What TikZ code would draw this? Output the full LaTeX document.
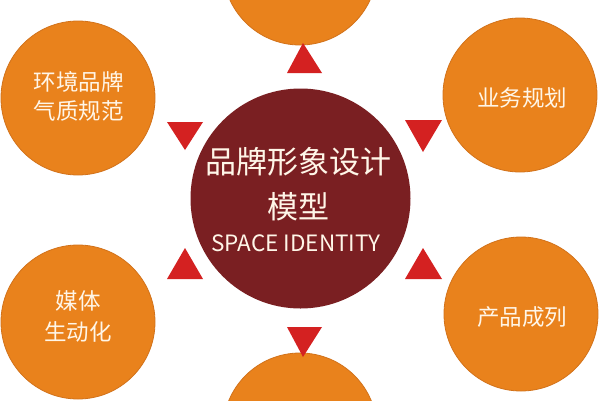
\documentclass[tikz,border=0pt]{standalone}
\usepackage{fontspec}
\setmainfont{Noto Sans CJK SC}
\newfontfamily\cjk{Noto Sans CJK SC}
\definecolor{orangefill}{HTML}{E9821C}
\definecolor{orangeedge}{HTML}{D2721A}
\definecolor{darkred}{HTML}{7A1F22}
\definecolor{trired}{HTML}{D42121}
\definecolor{textcream}{HTML}{FFF6E8}
\begin{document}
\begin{tikzpicture}[x=1pt,y=-1pt,
  orbit/.style={circle,fill=orangefill,draw=orangeedge,line width=0.8pt,minimum size=154pt,inner sep=0pt},
  hub/.style={circle,fill=darkred,minimum size=220pt,inner sep=0pt},
  orbittext/.style={text=textcream,font=\cjk\fontsize{22.5}{30}\selectfont,align=center},
  tri/.style={fill=trired}]
\useasboundingbox (0,0) rectangle (600,400);
\fill[white] (0,0) rectangle (600,400);
% orbit circles
\node[orbit] (top) at (300,-32) {};
\node[orbit] (tl) at (78,98) {};
\node[orbit] (tr) at (520,95) {};
\node[orbit] (bl) at (78,322) {};
\node[orbit] (br) at (521,314) {};
\node[orbit] (bot) at (300,430) {};
% hub
\node[hub] (hub) at (300.5,198.5) {};
% hub texts
\node[text=textcream,font=\cjk\fontsize{31}{36}\selectfont] (h1) at (298,162) {品牌形象设计};
\node[text=textcream,font=\cjk\fontsize{31}{36}\selectfont] (h2) at (298,207) {模型};
\node[text=textcream,font=\cjk\fontsize{22.5}{26}\selectfont] (h3) at (296,243) {SPACE IDENTITY};
% orbit texts
\node[orbittext] (t1) at (79,96) {环境品牌\\[-1pt]气质规范};
\node[orbittext] (t2) at (522,98) {业务规划};
\node[orbittext] (t3) at (78,316) {媒体\\[1pt]生动化};
\node[orbittext] (t4) at (522,317) {产品成列};
% triangles
\coordinate (a1) at (303,43);
\fill[tri] (a1) -- (287,73) -- (322,73) -- cycle;
\coordinate (a2) at (303,357);
\fill[tri] (a2) -- (287,327) -- (322,327) -- cycle;
\coordinate (a3) at (185,150);
\fill[tri] (a3) -- (167,122) -- (203,122) -- cycle;
\coordinate (a4) at (423,152);
\fill[tri] (a4) -- (405,120) -- (442,120) -- cycle;
\coordinate (a5) at (185,248);
\fill[tri] (a5) -- (167,279) -- (203,279) -- cycle;
\coordinate (a6) at (423,248);
\fill[tri] (a6) -- (405,279) -- (442,279) -- cycle;
\end{tikzpicture}
\end{document}
